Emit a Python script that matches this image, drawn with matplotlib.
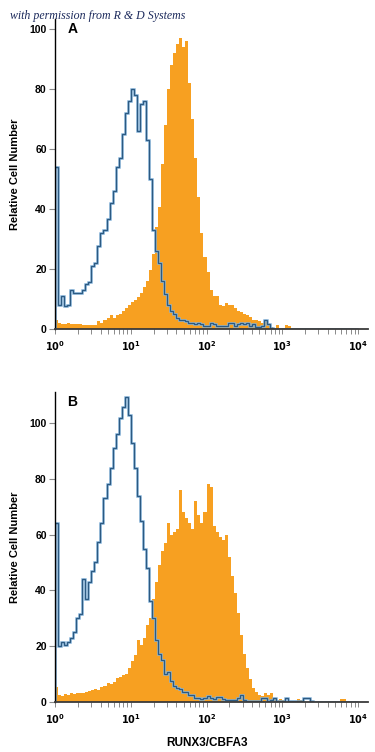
import matplotlib
matplotlib.use("Agg")
import matplotlib.pyplot as plt
import numpy as np
from matplotlib import font_manager
from matplotlib.ticker import FixedLocator, NullFormatter

# histogram bins: 100 bins on a log scale from 10^0 to 10^4
edges = np.logspace(0, 4, 101)

# panel A
iso_a = [54, 8, 11, 7.5, 8, 13, 12, 12, 12, 13,
         15, 15.5, 21, 22, 27.5, 32, 33, 36.5, 42, 46,
         54, 57, 65, 72, 76, 80, 78, 66, 75, 76,
         63, 50, 33, 26, 22, 16, 11.5, 8, 6, 5,
         3.5, 3, 3, 2.5, 2, 2, 1.5, 2, 1.5, 1,
         1, 2, 1.5, 1, 1, 1, 1, 2, 2, 1,
         1.5, 2, 1.5, 2, 1, 1.5, 0.5, 0.5, 1, 3,
         1.5, 0.3, 0, 0, 0, 0, 0, 0, 0, 0,
         0, 0, 0, 0, 0, 0, 0, 0, 0, 0,
         0, 0, 0, 0, 0, 0, 0, 0, 0, 0]
runx_a = [3, 2, 1.5, 1.5, 2, 1.8, 1.5, 1.8, 1.7, 1.3,
          1.3, 1.2, 1.4, 1.3, 2.5, 2, 3, 3.5, 4.5, 3.8,
          4.5, 5, 6, 7, 8, 9, 9.5, 10.5, 12, 14,
          16, 19.7, 25, 34, 40.8, 55, 68, 80, 88, 92,
          95, 97, 94, 96, 82, 70, 57, 44, 32, 24,
          19, 13, 11, 11, 8, 7.5, 8.5, 8, 8, 7,
          6, 5.5, 5, 4.5, 4, 3, 3, 2.5, 2, 2.7,
          1.5, 0.5, 0, 1.3, 0, 0.3, 1.3, 1, 0, 0,
          0, 0, 0, 0, 0, 0, 0, 0, 0, 0,
          0, 0, 0, 0, 0, 0, 0, 0, 0, 0]

# panel B
iso_b = [64, 20, 21.5, 20.3, 21.5, 23, 25, 30, 31.4, 44,
         37, 43, 47, 50, 57.5, 64, 73, 78, 84, 91,
         96, 102, 106, 109.5, 103, 93, 84, 74, 65, 55,
         48, 36, 30, 22, 17, 15, 10, 10.5, 7.5, 5.5,
         5, 4.5, 3.6, 3.5, 2.4, 2.4, 1.5, 1.2, 1, 1.2,
         2, 1.2, 0.8, 1.8, 1.8, 0.8, 0.5, 0.5, 0.5, 0.5,
         1.5, 2.4, 0.5, 0.3, 0.3, 0.3, 0.3, 0.3, 1.2, 1.5,
         0.3, 0.5, 1.5, 0.3, 0.3, 0.3, 1.5, 0.3, 0.3, 0.3,
         0.3, 0.3, 1.5, 1.5, 0.3, 0, 0, 0, 0, 0,
         0, 0, 0, 0, 0, 0, 0, 0, 0, 0]
runx_b = [5.4, 2.4, 2, 2.6, 2.4, 3, 2.8, 3, 3.2, 3,
          3.5, 4, 4.2, 4.5, 4.2, 5.4, 5.5, 6.6, 6.5, 7,
          8.4, 9, 9.6, 10, 12, 14.5, 16.8, 22, 20.4, 23,
          27.5, 30, 37, 43, 49, 54, 57, 64, 60, 61,
          62, 76, 68, 66, 64, 62, 72, 67, 64, 68,
          78, 77, 63, 61, 59, 58, 60, 52, 45, 39,
          32, 24, 17, 12, 8, 5, 3.5, 2.4, 2, 3,
          2.5, 3, 1, 0.5, 1, 0.5, 0, 0, 0, 0,
          1, 0.5, 0, 0, 0, 0, 0, 0, 0, 0,
          0, 0, 0, 0, 1, 1, 0, 0, 0, 0]

y_ticks = [0, 20, 40, 60, 80, 100]
x_ticks = [1, 10, 100, 1000, 10000]
x_labels = [r'$\mathbf{10^{%d}}$' % p for p in range(5)]


def pick_font(names):
    for n in names:
        try:
            font_manager.findfont(n, fallback_to_default=False)
            return n
        except Exception:
            pass
    return 'DejaVu Sans'


narrow = pick_font(['Liberation Sans Narrow', 'Liberation Sans'])
plt.rcParams['font.family'] = [narrow, 'DejaVu Sans']

ORANGE = '#f7a021'
BLUE_DARK = '#2c5a82'
BLUE_LIGHT = '#86b4da'

fig = plt.figure(figsize=(3.75, 7.52), dpi=100)
ax_a = fig.add_axes([0.1467, 0.5625, 0.8347, 0.4122])
ax_b = fig.add_axes([0.1467, 0.0669, 0.8347, 0.4114])


def draw_panel(ax, iso, runx, ytop, letter):
    ax.stairs(runx, edges, fill=True, color=ORANGE, linewidth=0)
    ax.stairs(iso, edges, color=BLUE_LIGHT, linewidth=1.8)
    ax.stairs(iso, edges, color=BLUE_DARK, linewidth=0.9)
    ax.set_xscale('log')
    ax.set_xlim(1, 10 ** 4.132)
    ax.set_ylim(0, ytop)
    ax.spines['top'].set_visible(False)
    ax.spines['right'].set_visible(False)
    ax.spines['left'].set_linewidth(1.0)
    ax.spines['left'].set_color('black')
    ax.spines['bottom'].set_linewidth(1.3)
    ax.spines['bottom'].set_color('#3a3a3a')
    ax.set_yticks(y_ticks)
    ax.set_yticklabels([str(v) for v in y_ticks], fontweight='bold', fontsize=7.5)
    ax.xaxis.set_major_locator(FixedLocator(x_ticks))
    ax.set_xticklabels(x_labels, fontsize=7)
    minor = [m * 10 ** p for p in range(4) for m in range(2, 10)]
    ax.xaxis.set_minor_locator(FixedLocator(minor))
    ax.xaxis.set_minor_formatter(NullFormatter())
    ax.tick_params(axis='y', length=4.5, width=0.8, color='#8a8a8a', pad=1.5)
    ax.tick_params(axis='x', which='both', length=3.6, width=0.7,
                   color='#8a8a8a', pad=4)
    ax.text(0.04, 0.99, letter, transform=ax.transAxes, fontsize=10,
            fontweight='bold', va='top', ha='left')
    ax.set_ylabel('Relative Cell Number', fontsize=8, fontweight='bold',
                  labelpad=7)


draw_panel(ax_a, iso_a, runx_a, 103.3, 'A')
draw_panel(ax_b, iso_b, runx_b, 111.1, 'B')

ax_b.set_xlabel('RUNX3/CBFA3', fontsize=8.5, fontweight='bold')
ax_b.xaxis.set_label_coords(0.486, -0.115)

fig.text(0.027, 0.979, 'with permission from R & D Systems',
         fontsize=8.6, style='italic', color='#1c2a5c',
         family=['Liberation Serif', 'DejaVu Serif'], va='center', ha='left')

fig.savefig('out.png', dpi=100)
